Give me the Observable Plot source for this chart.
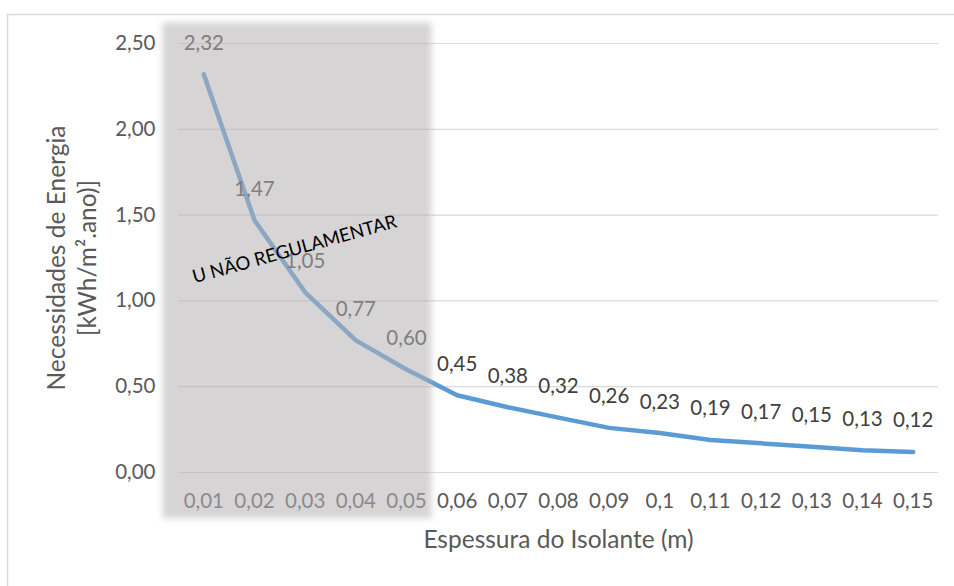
<!DOCTYPE html>
<html>
<head>
<meta charset="utf-8">
<script src="https://cdn.jsdelivr.net/npm/d3@7"></script>
<script src="https://cdn.jsdelivr.net/npm/@observablehq/plot@0.6"></script>
<style>
  html, body { margin: 0; padding: 0; background: #fff; }
</style>
</head>
<body>
<div id="chart"></div>
<script>
// ---- data ----
const xVals = [0.01, 0.02, 0.03, 0.04, 0.05, 0.06, 0.07, 0.08, 0.09, 0.10, 0.11, 0.12, 0.13, 0.14, 0.15];
const yVals = [2.32, 1.47, 1.05, 0.77, 0.60, 0.45, 0.38, 0.32, 0.26, 0.23, 0.19, 0.17, 0.15, 0.13, 0.12];
const yTicks = [0, 0.5, 1.0, 1.5, 2.0, 2.5];
const shadeX = [0.002, 0.055];
const shadeY = [-0.27, 2.62];
const noteText = "U NÃO REGULAMENTAR";
const notePos = [0.0279, 1.30];
const xTitle = "Espessura do Isolante (m)";
const yTitle = ["Necessidades de Energia", "[kWh/m².ano)]"];

const data = xVals.map((x, i) => ({x, y: yVals[i]}));
const fmt2 = v => v.toFixed(2).replace(".", ",");
const xFmt = v => String(+v.toFixed(2)).replace(".", ",");

const chart = Plot.plot({
  width: 954,
  height: 586,
  marginLeft: 178,
  marginRight: 16,
  marginTop: 43,
  marginBottom: 114,
  style: {fontFamily: "Lato, 'Open Sans', sans-serif", fontSize: "20px", background: "white", overflow: "visible"},
  x: {domain: [0.005, 0.155]},
  y: {domain: [0, 2.5]},
  marks: [
    Plot.frame({stroke: "#d9d9d9", strokeWidth: 1.5, insetLeft: -171, insetTop: -29, insetRight: -40, insetBottom: -150}),
    Plot.ruleY(yTicks, {stroke: "#d9d9d9", strokeWidth: 1.2}),
    Plot.line(data, {x: "x", y: "y", stroke: "#5b9bd5", strokeWidth: 4.5, strokeLinecap: "round", strokeLinejoin: "round"}),
    Plot.text(data, {x: "x", y: "y", text: d => fmt2(d.y), dy: -31, fill: "#404040", fontSize: 20.5}),
    Plot.axisX(xVals, {tickSize: 0, tickPadding: 21, tickFormat: xFmt, label: null, color: "#595959", fontSize: 20.5}),
    Plot.axisY(yTicks, {tickSize: 0, tickPadding: 23, tickFormat: fmt2, label: null, color: "#595959", fontSize: 20.5}),
    Plot.rect([{x1: shadeX[0], x2: shadeX[1], y1: shadeY[0], y2: shadeY[1]}], {x1: "x1", x2: "x2", y1: "y1", y2: "y2", fill: "#b4b1b3", fillOpacity: 0.55}),
    Plot.text([noteText], {x: () => notePos[0], y: () => notePos[1], text: d => d, rotate: -15.5, fill: "#000", fontSize: 18.5}),
    Plot.text([xTitle], {frameAnchor: "bottom", dy: 75, fill: "#595959", fontSize: 24.5}),
    Plot.text([yTitle.join("\n")], {frameAnchor: "left", textAnchor: "middle", rotate: -90, dx: -108, lineHeight: 1.28, fill: "#595959", fontSize: 24.5})
  ]
});

const svg = d3.select(chart);
const defs = svg.insert("defs", ":first-child");
defs.append("filter").attr("id", "softshade")
  .attr("x", "-10%").attr("y", "-10%").attr("width", "120%").attr("height", "120%")
  .append("feGaussianBlur").attr("stdDeviation", 3);
svg.selectAll('g[aria-label="rect"]').attr("filter", "url(#softshade)");

document.getElementById("chart").appendChild(chart);
</script>
</body>
</html>
